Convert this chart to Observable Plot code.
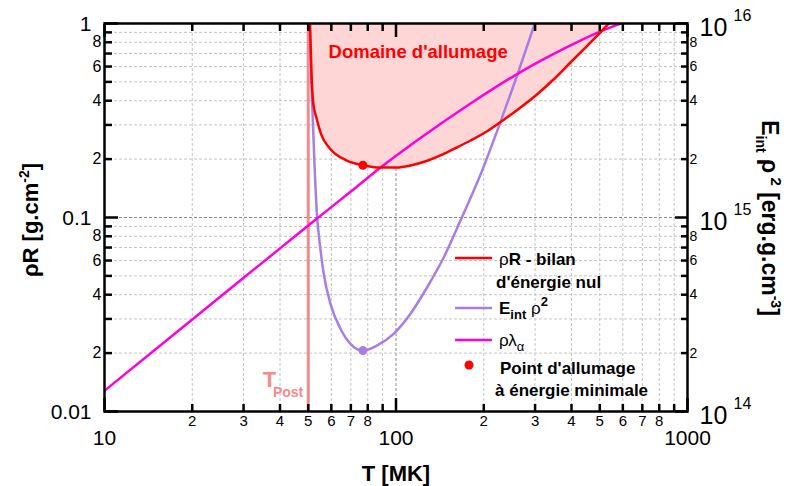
<!DOCTYPE html>
<html><head><meta charset="utf-8">
<script src="https://cdn.jsdelivr.net/npm/d3@7"></script>
<script src="https://cdn.jsdelivr.net/npm/@observablehq/plot@0.6"></script>
<style>
body{margin:0;background:#fff}
svg{font-family:"Liberation Sans",Arial,sans-serif}
</style>
</head><body><div id="chart"></div>
<script>
// ---- data ----
// rho*lambda_alpha [g.cm-2] vs T [MK]
const pinkT = [10, 20, 30, 40, 50.5, 70, 88.5, 121.3, 180.2, 267.4, 381.5, 502.8, 589];
const pinkV = [0.0128, 0.0298, 0.0489, 0.0693, 0.0921, 0.136, 0.181, 0.257, 0.387, 0.562, 0.748, 0.910, 1.0];
// rhoR zero-energy-balance [g.cm-2]
const redT = [50.7, 51.3, 51.95, 53.4, 55.5, 59.3, 67.6, 77.1, 88, 100.4, 112.1, 127.3, 142.1, 157.5, 180.2, 206.1, 233.8, 267.4, 305.8, 347, 396.8, 453.9, 502.8, 537];
const redV = [1.0, 0.55, 0.394, 0.324, 0.266, 0.227, 0.197, 0.186, 0.181, 0.181, 0.1854, 0.1955, 0.2088, 0.2254, 0.2494, 0.2792, 0.3182, 0.369, 0.4332, 0.5144, 0.6295, 0.770, 0.899, 1.0];
// E_int rho^2 [erg.g.cm-3]
const purpleT = [50.5, 51.3, 52.6, 53.7, 54.3, 56.5, 59.6, 64.5, 69.8, 76.9, 86.2, 98.3, 112.1, 127.9, 145.9, 166.4, 195, 228.3, 260.5, 299.4];
const purpleE = [1e16, 4.81e15, 1.79e15, 9.73e14, 8.24e14, 5.13e14, 3.59e14, 2.67e14, 2.23e14, 2.06e14, 2.19e14, 2.52e14, 3.19e14, 4.37e14, 6.24e14, 9.65e14, 1.665e15, 3.11e15, 5.41e15, 1e16];
// minimum-energy ignition point
const ignitionT = 77;
const ignitionRhoR = 0.186;
const ignitionE = 2.06e14;
// T_Post
const tPost = 50;
// ratio between right axis and left axis
const rightFactor = 1e16;

// ticks
const xMajorTicks = [10, 100, 1000];
const xMajorLabels = ["10", "100", "1000"];
const xMinorTicks = [20,30,40,50,60,70,80,90,200,300,400,500,600,700,800,900];
const xMinorLabelVals = [20,30,40,50,60,70,80,200,300,400,500,600,700,800];
const xMinorLabels = ["2","3","4","5","6","7","8","2","3","4","5","6","7","8"];
const yMajorTicks = [0.01, 0.1, 1];
const yMajorLabels = ["0.01", "0.1", "1"];
const yMinorTicks = [0.02,0.03,0.04,0.05,0.06,0.07,0.08,0.09,0.2,0.3,0.4,0.5,0.6,0.7,0.8,0.9];
const yMinorLabelVals = [0.02,0.04,0.06,0.08,0.2,0.4,0.6,0.8];
const yMinorLabels = ["2","4","6","8","2","4","6","8"];
const rMajorTicks = [1e14, 1e15, 1e16];
const rMajorExp = ["14", "15", "16"];
const rMinorTicks = [2e14,3e14,4e14,5e14,6e14,7e14,8e14,9e14,2e15,3e15,4e15,5e15,6e15,7e15,8e15,9e15];
const rMinorLabelVals = [2e14,4e14,6e14,8e14,2e15,4e15,6e15,8e15];
const rMinorLabels = ["2","4","6","8","2","4","6","8"];

const pink = pinkT.map((T, i) => ({T, v: pinkV[i]}));
const red = redT.map((T, i) => ({T, v: redV[i]}));
const purple = purpleT.map((T, i) => ({T, E: purpleE[i]}));

const C_RED = "#ff0000", C_PURPLE = "#a77ee6", C_PINK = "#ff00d8", C_POST = "#f58a8a";
const FONT = "Liberation Sans, Arial, sans-serif";
const CURVE = "monotone-x";
const TICK = {stroke: "black", strokeWidth: 2.5, fill: "none", label: null};

const chart = Plot.plot({
  width: 795, height: 486,
  marginLeft: 104, marginRight: 108, marginTop: 23, marginBottom: 75,
  style: {fontFamily: FONT, background: "white", overflow: "visible"},
  x: {type: "log", domain: [10, 1000], axis: null},
  y: {type: "log", domain: [0.01, 1], axis: null},
  marks: [
    Plot.gridX(xMinorTicks, {stroke: "#c4c4c4", strokeOpacity: 1, strokeDasharray: "3,2"}),
    Plot.gridX([100], {stroke: "#8a8a8a", strokeOpacity: 1, strokeDasharray: "3,2"}),
    Plot.gridY(yMinorTicks, {stroke: "#c4c4c4", strokeOpacity: 1, strokeDasharray: "3,2"}),
    Plot.gridY([0.1], {stroke: "#8a8a8a", strokeOpacity: 1, strokeDasharray: "3,2"}),
    Plot.areaY(red, {x: "T", y1: "v", y2: 1, fill: "#ffd6d6", curve: CURVE}),
    Plot.ruleX([tPost], {stroke: C_POST, strokeWidth: 3}),
    Plot.line(purple, {x: "T", y: d => d.E / rightFactor, stroke: C_PURPLE, strokeWidth: 2.5, curve: CURVE, clip: true}),
    Plot.line(pink, {x: "T", y: "v", stroke: C_PINK, strokeWidth: 2.5, curve: CURVE, clip: true}),
    Plot.line(red, {x: "T", y: "v", stroke: C_RED, strokeWidth: 2.5, curve: CURVE, clip: true}),
    Plot.dot([ignitionE], {x: () => ignitionT, y: d => d / rightFactor, r: 4.5, fill: C_PURPLE}),
    Plot.dot([ignitionRhoR], {x: () => ignitionT, y: d => d, r: 4.5, fill: C_RED}),
    Plot.text(["Domaine d'allumage"], {x: 58.7, y: 0.71, textAnchor: "start", fill: C_RED, fontSize: 18.5, fontWeight: "bold"}),
    Plot.text(["T"], {x: tPost, frameAnchor: "bottom", dx: -32, dy: -25, textAnchor: "end", fill: C_POST, fontSize: 22, fontWeight: "bold"}),
    Plot.text(["Post"], {x: tPost, frameAnchor: "bottom", dx: -5, dy: -15, textAnchor: "end", fill: C_POST, fontSize: 14, fontWeight: "bold"}),
    Plot.frame({stroke: "black", strokeWidth: 2.5}),
    // inward ticks (drawn outward from the frame, then shifted inside)
    Plot.axisY(yMajorTicks, {anchor: "left", tickSize: 14, dx: 14, ...TICK}),
    Plot.axisY(yMinorTicks, {anchor: "left", tickSize: 8, dx: 8, ...TICK}),
    Plot.axisY(rMajorTicks.map(v => v / rightFactor), {anchor: "right", tickSize: 13, dx: -13, ...TICK}),
    Plot.axisY(rMinorTicks.map(v => v / rightFactor), {anchor: "right", tickSize: 7, dx: -7, ...TICK}),
    Plot.axisX(xMajorTicks, {anchor: "bottom", tickSize: 13, dy: -13, ...TICK}),
    Plot.axisX(xMinorTicks, {anchor: "bottom", tickSize: 7, dy: -7, ...TICK}),
    Plot.axisX(xMajorTicks, {anchor: "top", tickSize: 13, dy: 13, ...TICK}),
    Plot.axisX(xMinorTicks, {anchor: "top", tickSize: 7, dy: 7, ...TICK}),
    // tick labels
    Plot.text(yMajorTicks, {y: d => d, text: (d, i) => yMajorLabels[i], frameAnchor: "left", dx: -13, dy: 1, textAnchor: "end", fontSize: 21, fill: "black"}),
    Plot.text(yMinorLabelVals, {y: d => d, text: (d, i) => yMinorLabels[i], frameAnchor: "left", dx: -3, textAnchor: "end", fontSize: 16, fill: "black"}),
    Plot.text(xMajorTicks, {x: d => d, text: (d, i) => xMajorLabels[i], frameAnchor: "bottom", dy: 33, fontSize: 21, fill: "black"}),
    Plot.text(xMinorLabelVals, {x: d => d, text: (d, i) => xMinorLabels[i], frameAnchor: "bottom", dy: 14, fontSize: 15, fill: "black"}),
    Plot.text(rMajorTicks, {y: d => d / rightFactor, text: () => "10", frameAnchor: "right", dx: 12, dy: 4, textAnchor: "start", fontSize: 25, fill: "black"}),
    Plot.text(rMajorTicks, {y: d => d / rightFactor, text: (d, i) => rMajorExp[i], frameAnchor: "right", dx: 46, dy: -8, textAnchor: "start", fontSize: 16, fill: "black"}),
    Plot.text(rMinorLabelVals, {y: d => d / rightFactor, text: (d, i) => rMinorLabels[i], frameAnchor: "right", dx: 2, textAnchor: "start", fontSize: 14, fill: "black"})
  ]
});
document.getElementById("chart").appendChild(chart);

// ---- titles & legend (annotations) ----
const svg = d3.select(chart);
function rich(sel, parts) {
  parts.forEach(p => {
    const t = sel.append("tspan").text(p.t);
    if (p.dy) t.attr("dy", p.dy);
    if (p.fs) t.attr("font-size", p.fs);
    if (p.fw) t.attr("font-weight", p.fw);
  });
}
const ann = svg.append("g").attr("font-family", FONT).attr("fill", "black");

// x title
ann.append("text").attr("x", 396).attr("y", 481).attr("text-anchor", "middle")
  .attr("font-size", 22).attr("font-weight", "bold").text("T [MK]");
// left title
const lt = ann.append("text").attr("transform", "translate(38,220) rotate(-90)")
  .attr("text-anchor", "middle").attr("font-size", 22).attr("font-weight", "bold");
rich(lt, [{t: "ρR [g.cm"}, {t: "-2", dy: -9, fs: 14}, {t: "]", dy: 9}]);
// right title
const rt = ann.append("text").attr("transform", "translate(762,218) rotate(90)")
  .attr("text-anchor", "middle").attr("font-size", 23).attr("font-weight", "bold");
rich(rt, [{t: "E"}, {t: "int", dy: 6, fs: 14}, {t: " ρ", dy: -6}, {t: " 2", dy: -9, fs: 15}, {t: " [erg.g.cm", dy: 9}, {t: "-3", dy: -9, fs: 14}, {t: "]", dy: 9}]);

// legend
const lg = ann.append("g").attr("font-size", 17).attr("font-weight", "bold").attr("text-anchor", "start");
[[258, C_RED], [308, C_PURPLE], [340, C_PINK]].forEach(([y, c]) =>
  lg.append("line").attr("x1", 455).attr("x2", 492).attr("y1", y).attr("y2", y)
    .attr("stroke", c).attr("stroke-width", 2.5));
lg.append("circle").attr("cx", 469).attr("cy", 365).attr("r", 4.5).attr("fill", C_RED);
const t1 = lg.append("text").attr("x", 499).attr("y", 265);
rich(t1, [{t: "ρ", fw: "normal"}, {t: "R - bilan"}]);
lg.append("text").attr("x", 496).attr("y", 288).text("d'énergie nul");
const t3 = lg.append("text").attr("x", 499).attr("y", 314);
rich(t3, [{t: "E"}, {t: "int", dy: 5, fs: 13}, {t: " ρ", dy: -5, fw: "normal"}, {t: "2", dy: -8, fs: 13}]);
const t4 = lg.append("text").attr("x", 499).attr("y", 346).attr("font-weight", "normal");
rich(t4, [{t: "ρλ"}, {t: "α", dy: 5, fs: 13}]);
lg.append("text").attr("x", 500).attr("y", 374).text("Point d'allumage");
lg.append("text").attr("x", 495).attr("y", 396).text("à énergie minimale");
</script>
</body></html>
